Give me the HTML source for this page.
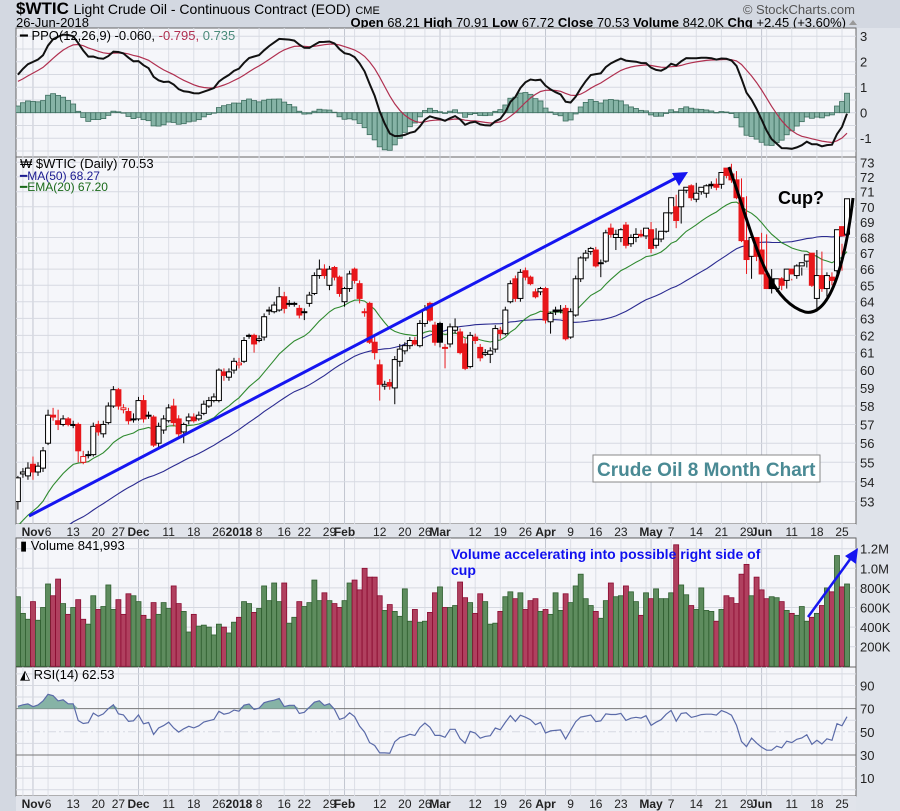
<!DOCTYPE html>
<html><head><meta charset="utf-8"><style>
html,body{margin:0;padding:0;background:#d3d8e1;}
svg{display:block;font-family:"Liberation Sans",sans-serif;}
</style></head><body>
<svg id="c" width="900" height="811" viewBox="0 0 900 811" xmlns="http://www.w3.org/2000/svg">
<defs>
<clipPath id="cpP"><rect x="16" y="28" width="840" height="129"/></clipPath>
<clipPath id="cpM"><rect x="16" y="157" width="840" height="367"/></clipPath>
<clipPath id="cpV"><rect x="16" y="538" width="840" height="129"/></clipPath>
<clipPath id="cpR"><rect x="16" y="667" width="840" height="129"/></clipPath>
</defs>
<rect x="0" y="0" width="900" height="811" fill="#d3d8e1"/>
<rect x="856" y="28" width="44" height="783" fill="#dfe3ea"/>
<text x="16" y="14" font-size="17" font-weight="bold" fill="#000">$WTIC <tspan font-size="14" font-weight="normal">Light Crude Oil - Continuous Contract (EOD)</tspan> <tspan font-size="11" font-weight="normal">CME</tspan></text>
<text x="16" y="27" font-size="13" fill="#000">26-Jun-2018</text>
<text x="855" y="14" font-size="13" fill="#555" text-anchor="end">© StockCharts.com</text>
<text x="846" y="27" font-size="13" fill="#000" text-anchor="end"><tspan font-weight="bold">Open</tspan> 68.21  <tspan font-weight="bold">High</tspan> 70.91  <tspan font-weight="bold">Low</tspan> 67.72  <tspan font-weight="bold">Close</tspan> 70.53  <tspan font-weight="bold">Volume</tspan> 842.0K  <tspan font-weight="bold">Chg</tspan> +2.45 (+3.60%)</text>
<path d="M849 25 L853 20 L857 25 Z" fill="#999"/>
<g id="panels"></g>
<g>
<line x1="29" y1="516" x2="676" y2="178" stroke="#1515f0" stroke-width="3"/>
<path d="M688 172 L672 173 L679 186 Z" fill="#1515f0"/>
<path d="M729 167 C752 230 765 300 805 312 C835 318 848 240 853 198" fill="none" stroke="#000" stroke-width="3"/>
<text x="778" y="204" font-size="18" font-weight="bold" fill="#000">Cup?</text>
<rect x="593" y="455" width="227" height="27" fill="#fff" stroke="#888"/>
<text x="597" y="476" font-size="19" font-weight="bold" fill="#4a8a94">Crude Oil 8 Month Chart</text>
<text x="451" y="559" font-size="14" font-weight="bold" fill="#1010ee">Volume accelerating into possible right side of</text>
<text x="451" y="575" font-size="14" font-weight="bold" fill="#1010ee">cup</text>
<line x1="808" y1="617" x2="851" y2="558" stroke="#1515f0" stroke-width="2.5"/>
<path d="M858 548 L845 556 L856 564 Z" fill="#1515f0"/>
</g>
<g font-size="13">
<text x="20" y="40"><tspan fill="#000">━ PPO(12,26,9) -0.060,</tspan><tspan fill="#b03050"> -0.795,</tspan><tspan fill="#4a8a7a"> 0.735</tspan></text>
<text x="20" y="168" fill="#000">₩ $WTIC (Daily) 70.53</text>
<text x="20" y="180" font-size="12" fill="#1a1a90">━MA(50) 68.27</text>
<text x="20" y="191" font-size="12" fill="#1a6a1a">━EMA(20) 67.20</text>
<text x="20" y="550" fill="#000">▮ Volume 841,993</text>
<text x="20" y="679" fill="#000">◭ RSI(14) 62.53</text>
</g>
</svg>
<script>
// ---------- data ----------
const history = [49.2,49.6,49.6,49.6,49.4,49.2,49.2,49.6,48.6,48.6,47.6,47.0,47.1,46.8,48.5,48.4,47.8,47.4,47.7,47.6,47.2,46.6,46.4,47.3,47.3,48.7,49.2,49.1,47.5,48.1,48.2,49.3,49.9,50.4,49.9,49.9,49.5,50.7,50.6,50.6,52.2,51.9,51.6,51.7,50.6,50.4,50.0,49.6,50.8,51.6,51.2,51.3,50.6,51.5,51.6,51.5,52.0,51.9,51.8,51.7,52.4,52.2,52.5,52.6];
const opens = [53.0,54.4,54.3,54.9,54.5,54.7,56.0,57.5,57.2,57.0,57.3,57.0,57.0,55.0,55.4,55.4,57.0,56.5,57.1,58.0,58.9,57.8,57.7,57.3,57.3,58.3,57.5,57.4,56.0,56.7,57.2,58.0,57.3,56.6,57.2,57.4,57.3,57.6,58.0,58.3,58.3,59.9,59.6,60.0,60.3,60.5,62.0,62.0,61.7,61.9,63.5,63.4,63.5,64.3,63.9,63.9,63.6,63.4,63.9,64.5,65.6,66.0,65.0,66.1,65.5,64.0,64.8,66.0,65.1,63.4,63.9,61.6,60.3,59.1,59.3,59.0,60.5,61.1,61.4,61.7,61.4,62.7,63.9,62.6,62.7,61.3,61.5,62.3,62.2,61.5,60.2,61.9,61.3,60.9,60.9,61.2,62.3,62.1,64.0,65.4,64.2,65.9,65.5,64.6,64.6,64.8,62.8,63.5,63.5,63.6,61.9,63.2,65.4,66.7,67.1,67.2,66.4,66.5,68.6,68.0,68.0,68.8,67.6,68.0,68.2,68.1,68.5,67.5,67.9,68.4,69.6,70.0,70.0,71.1,71.4,70.5,71.0,70.9,71.5,71.5,71.5,72.6,72.2,71.8,70.6,67.8,66.8,68.0,67.2,65.7,65.4,64.8,65.4,65.3,66.0,65.6,66.2,66.5,67.0,64.2,65.6,64.8,65.5,65.9,68.7,68.21];
const closes = [54.2,54.5,54.7,54.5,54.8,55.6,57.5,57.4,57.0,57.3,57.0,57.0,55.6,55.3,55.4,56.9,56.6,57.0,58.0,58.9,58.0,57.9,57.2,57.3,58.3,57.3,57.5,55.9,56.9,57.3,57.9,57.1,56.5,57.0,57.4,57.2,57.5,58.1,58.3,58.5,60.0,59.7,59.9,60.5,60.4,61.7,62.0,61.5,61.8,63.1,63.5,63.8,64.3,63.6,63.9,63.9,63.2,63.4,64.4,65.6,66.0,65.6,66.0,65.5,64.5,64.8,65.7,65.3,64.2,63.4,61.6,61.0,59.2,59.2,59.1,60.6,61.2,61.4,61.7,61.5,62.7,63.5,62.9,61.6,61.6,61.3,62.5,62.5,61.0,60.1,62.0,61.7,60.7,61.0,61.1,62.4,62.1,63.5,65.1,64.2,65.8,65.5,65.1,64.3,64.8,62.9,63.3,63.4,63.5,61.8,63.4,65.4,66.7,67.0,67.3,66.2,66.4,68.3,68.2,68.2,68.5,67.5,68.0,68.2,68.1,68.6,67.3,67.9,68.4,69.6,70.6,69.1,71.1,71.3,70.6,70.9,71.3,71.4,71.4,71.3,72.3,72.1,71.8,70.6,67.8,66.6,68.0,66.8,65.7,64.8,64.8,65.4,65.0,66.0,65.7,66.2,66.4,66.9,65.0,65.6,64.8,65.6,65.3,68.5,68.1,70.53];
const highs = [54.3,54.7,55.0,55.3,55.0,55.8,57.8,57.9,57.8,57.5,57.4,57.2,57.1,55.6,55.6,57.1,57.2,57.2,58.2,59.1,59.0,58.1,57.9,57.6,58.5,58.6,57.7,57.5,57.1,57.5,58.1,58.4,57.5,57.1,57.6,57.6,57.7,58.3,58.5,58.7,60.1,60.1,60.1,60.7,60.7,61.9,62.1,62.1,62.0,63.3,63.7,64.0,64.9,64.6,64.1,64.0,63.8,63.6,64.6,65.8,66.6,66.3,66.2,66.2,65.6,64.9,65.9,66.1,65.3,63.6,64.0,61.9,60.6,59.4,59.5,60.8,61.5,61.6,61.9,61.9,62.9,63.8,64.0,62.8,62.8,61.5,62.7,63.0,62.4,61.8,62.2,62.1,61.5,61.2,61.3,62.6,62.5,63.7,65.3,65.6,66.0,66.1,65.6,64.8,64.9,64.9,63.4,63.7,63.8,63.8,63.6,65.6,66.8,67.2,67.4,67.4,66.6,68.5,68.9,68.5,68.6,69.0,68.2,68.6,68.5,68.4,69.0,68.6,68.1,68.6,69.8,70.8,70.2,71.3,71.5,71.6,71.1,71.5,71.7,71.9,71.6,72.5,72.9,72.4,71.9,70.7,67.9,66.9,68.3,68.2,66.0,65.4,65.5,65.7,65.4,66.3,66.1,66.5,66.9,67.2,67.1,65.8,65.8,66.0,65.9,68.9,69.3,70.91];
const lows = [52.6,54.2,54.1,54.1,54.3,54.5,55.9,57.2,56.7,56.9,56.9,56.8,55.0,54.9,55.2,55.3,56.4,56.3,57.0,57.9,57.8,57.6,57.0,57.1,57.2,57.1,57.3,55.8,55.8,56.5,57.1,56.9,56.3,56.0,57.0,57.1,57.2,57.5,57.9,58.2,58.2,59.4,59.4,59.8,60.1,60.4,61.8,61.0,61.6,61.7,63.2,63.3,63.4,63.3,63.7,63.7,63.0,62.9,63.7,64.4,65.4,65.4,64.7,65.3,64.3,63.7,64.6,65.1,63.9,63.1,61.5,60.6,58.3,58.9,58.9,58.1,60.2,60.9,61.2,61.4,61.3,62.5,62.8,61.4,61.3,60.1,61.3,62.1,60.9,60.0,60.1,61.5,60.5,60.8,60.4,61.0,61.8,62.0,63.9,64.0,64.0,65.3,65.0,64.2,64.4,62.7,62.1,63.2,63.3,61.7,61.8,63.1,65.2,66.5,66.9,66.1,65.5,66.4,68.0,67.2,67.7,67.3,67.4,67.7,68.0,67.9,67.0,67.3,67.7,68.3,69.5,68.6,68.9,70.9,70.4,70.3,70.8,70.6,71.2,71.1,71.2,71.9,71.6,70.5,67.7,65.7,65.4,66.5,66.4,65.1,64.5,64.6,64.7,64.8,65.3,65.4,65.6,66.1,64.9,63.4,64.6,64.3,65.0,65.5,67.6,67.72];
const volumes = [0.71,0.54,0.48,0.66,0.47,0.60,0.84,0.72,0.89,0.64,0.53,0.60,0.68,0.48,0.43,0.72,0.58,0.61,0.83,0.58,0.68,0.53,0.74,0.72,0.66,0.52,0.48,0.65,0.53,0.65,0.59,0.82,0.64,0.56,0.35,0.53,0.41,0.42,0.40,0.32,0.43,0.40,0.34,0.45,0.50,0.66,0.64,0.55,0.59,0.82,0.67,0.85,0.66,0.85,0.44,0.50,0.66,0.61,0.65,0.88,0.67,0.75,0.67,0.64,0.60,0.67,0.85,0.88,0.78,1.00,0.91,0.91,0.72,0.57,0.63,0.56,0.51,0.79,0.46,0.58,0.45,0.46,0.55,0.75,0.81,0.60,0.60,0.62,0.86,0.70,0.65,0.54,0.74,0.66,0.43,0.44,0.56,0.71,0.76,0.69,0.75,0.58,0.67,0.69,0.56,0.58,0.53,0.75,0.57,0.74,0.65,0.82,0.94,0.69,0.62,0.56,0.49,0.67,0.85,0.71,0.72,0.82,0.76,0.66,0.52,0.75,0.69,0.79,0.69,0.69,0.75,1.24,0.83,0.73,0.62,0.58,0.80,0.57,0.56,0.46,0.58,0.72,0.70,0.64,0.94,1.04,0.72,0.91,0.78,0.69,0.71,0.70,0.66,0.57,0.54,0.52,0.61,0.46,0.50,0.54,0.62,0.80,0.76,1.13,0.81,0.84];
const priceTicks = [53,54,55,56,57,58,59,60,61,62,63,64,65,66,67,68,69,70,71,72,73];
const ppoTicks = [-1,0,1,2,3];
const volTicks = [0.2,0.4,0.6,0.8,1.0,1.2];
const volTickLabels = ["200K","400K","600K","800K","1.0M","1.2M"];
const rsiTicks = [10,30,50,70,90];
const startDate = "2017-10-27";
const holidays = ["2017-11-23","2017-12-25","2018-01-01","2018-01-15","2018-02-19","2018-03-30","2018-05-28"];

// ---------- scales ----------
const NS="http://www.w3.org/2000/svg";
const X0=17.9, DX=5.025;
function xOf(i){return X0+DX*i;}
function yP(v){return 162.3+(Math.log(73)-Math.log(v))/0.3203*339.4;}
function yV(v){return 666.3-v*98;}
function yR(r){return 731.8-(r-50)*1.158;}
function yPPO(p){return 112.7-p*25.5;}
const root=document.getElementById('panels');
function el(tag,attrs,parent){const e=document.createElementNS(NS,tag);for(const k in attrs)e.setAttribute(k,attrs[k]);(parent||root).appendChild(e);return e;}

// dates
const dates=[];
{let d=new Date(startDate+"T12:00:00Z");while(dates.length<closes.length){const w=d.getUTCDay();const s=d.toISOString().slice(0,10);if(w>0&&w<6&&holidays.indexOf(s)<0)dates.push(new Date(d));d=new Date(d.getTime()+86400000);}}
const monthNames=["2018","Feb","Mar","Apr","May","Jun","Jul","Aug","Sep","Oct","Nov","Dec"];
const marks=[];
for(let i=0;i<dates.length;i++){const d=dates[i],p=dates[i-1];
 if(p&&d.getUTCMonth()!==p.getUTCMonth())marks.push({i,label:monthNames[d.getUTCMonth()],month:true});
 else if(p&&(d.getUTCDay()<p.getUTCDay()))marks.push({i,label:String(d.getUTCDate()),month:false});}
const months=marks.filter(m=>m.month);
const labels=marks.filter(m=>m.month||!months.some(mm=>Math.abs(mm.i-m.i)<3));

// indicators
const all=history.concat(closes);const H=history.length;
function ema(arr,n){const k=2/(n+1);const o=[];let e=arr[0];for(let i=0;i<arr.length;i++){e=i?arr[i]*k+e*(1-k):arr[i];o.push(e);}return o;}
const e12=ema(all,12),e26=ema(all,26);const ppo=all.map((v,i)=>(e12[i]-e26[i])/e26[i]*100);
const sig=ema(ppo,9);const e20=ema(all,20);
const ma50=all.map((v,i)=>{if(i<49)return null;let s=0;for(let j=i-49;j<=i;j++)s+=all[j];return s/50;});
const rsi=[];{let ag=0,al=0;for(let i=1;i<all.length;i++){const ch=all[i]-all[i-1];const g=Math.max(ch,0),l=Math.max(-ch,0);if(i<=14){ag+=g/14;al+=l/14;}else{ag=(ag*13+g)/14;al=(al*13+l)/14;}rsi[i]=al===0?100:100-100/(1+ag/al);}}

// ---------- panels ----------
function panelBg(y,h,name){const r=el('rect',{x:16,y:y,width:840,height:h,fill:'#f5f6fa',stroke:'#666','stroke-width':1});}
panelBg(28,129,'ppo-panel');panelBg(157,367,'price-panel');panelBg(538,129,'volume-panel');panelBg(667,129,'rsi-panel');
[[524,537],[796,811]].forEach((s,k)=>{const r=el('rect',{x:16,y:s[0],width:840,height:s[1]-s[0],fill:'#e1e4eb'});
 labels.forEach(m=>{const t=el('text',{x:xOf(m.i),y:s[0]+12,'font-size':12,'text-anchor':'middle','font-weight':m.month?'bold':'normal',fill:'#222'});t.textContent=m.label;});});
[[28,157],[157,524],[538,667],[667,796]].forEach(p=>{marks.forEach(m=>{const l=el('line',{x1:xOf(m.i),x2:xOf(m.i),y1:p[0],y2:p[1],stroke:m.month?'#c2c6d0':'#dcdfe6','stroke-width':1});});});
function hgrid(y,label,name,dark,dash){const l=el('line',{x1:16,x2:856,y1:y,y2:y,stroke:dark?'#777':'#d6d9e1','stroke-width':1});if(dash)l.setAttribute('stroke-dasharray','8,3,2,3');
 if(label!==null){const t=el('text',{x:860,y:y+5,'font-size':13,fill:'#222'});t.textContent=label;}}
priceTicks.forEach(v=>hgrid(yP(v),String(v),'price-axis'));
for(let p=-1.5;p<=3;p+=0.5){if(p%1!==0)hgrid(yPPO(p),null,'ppo-axis');}
ppoTicks.forEach(v=>hgrid(yPPO(v),String(v),'ppo-axis'));
volTicks.forEach((v,k)=>hgrid(yV(v),volTickLabels[k],'volume-axis'));
for(let r=0;r<=100;r+=10){if(rsiTicks.indexOf(r)<0)hgrid(yR(r),null,'rsi-axis');}
rsiTicks.forEach(v=>hgrid(yR(v),String(v),'rsi-axis',v===30||v===70,v===50));

// PPO
const gP=el('g',{'clip-path':'url(#cpP)'});
for(let i=0;i<closes.length;i++){const h=ppo[H+i]-sig[H+i];const y0=yPPO(0),y1=yPPO(h);
 const b=el('rect',{x:xOf(i)-2.5,y:Math.min(y0,y1),width:5,height:Math.max(Math.abs(y1-y0),0.5),fill:'#86b3a6',stroke:'#3d6e5f','stroke-width':0.8},gP);
 }
function line(vals,yf,color,w,g,name){let d='';vals.forEach((v,i)=>{if(v==null)return;d+=(d?'L':'M')+xOf(i).toFixed(1)+' '+yf(v).toFixed(1);});const p=el('path',{d:d,fill:'none',stroke:color,'stroke-width':w},g);return p;}
line(sig.slice(H),yPPO,'#b03050',1.2,gP,'ppo-signal-line');
line(ppo.slice(H),yPPO,'#111',2,gP,'ppo-line');

// Price
const gM=el('g',{'clip-path':'url(#cpM)'});
line(ma50.slice(H),yP,'#2a2a90',1.1,gM,'ma50-line');
line(e20.slice(H),yP,'#2f8a2f',1.1,gM,'ema20-line');
for(let i=0;i<closes.length;i++){const o=opens[i],c=closes[i];const prev=i?closes[i-1]:history[H-1];
 const col=c<prev?'#e8171b':'#000';const x=xOf(i);
 const w=el('line',{x1:x,x2:x,y1:yP(highs[i]),y2:yP(lows[i]),stroke:col,'stroke-width':1},gM);
 
 const yt=yP(Math.max(o,c)),yb=yP(Math.min(o,c));
 const b=el('rect',{x:x-2.5,y:yt,width:5,height:Math.max(yb-yt,1),fill:c<o?col:'#fff',stroke:col,'stroke-width':1},gM);
 }
// Volume
const gV=el('g',{'clip-path':'url(#cpV)'});
for(let i=0;i<volumes.length;i++){const prev=i?closes[i-1]:history[H-1];const dn=closes[i]<prev;
 const b=el('rect',{x:xOf(i)-2.5,y:yV(volumes[i]),width:5,height:yV(0)-yV(volumes[i]),fill:dn?'#b0405f':'#5e8c5e',stroke:dn?'#8a0a30':'#2f5e2f','stroke-width':0.8},gV);
 }
// RSI
const gR=el('g',{'clip-path':'url(#cpR)'});
const rs=rsi.slice(H);
{let d='';rs.forEach((v,i)=>{d+=(d?'L':'M')+xOf(i).toFixed(1)+' '+yR(Math.max(v,70)).toFixed(1);});d+='L'+xOf(rs.length-1)+' '+yR(70)+'L'+xOf(0)+' '+yR(70)+'Z';
 const a=el('path',{d:d,fill:'#86b3a6',stroke:'none'},gR);}
line(rs,yR,'#5a6aa8',1.2,gR,'rsi-line');
</script>
</body></html>
